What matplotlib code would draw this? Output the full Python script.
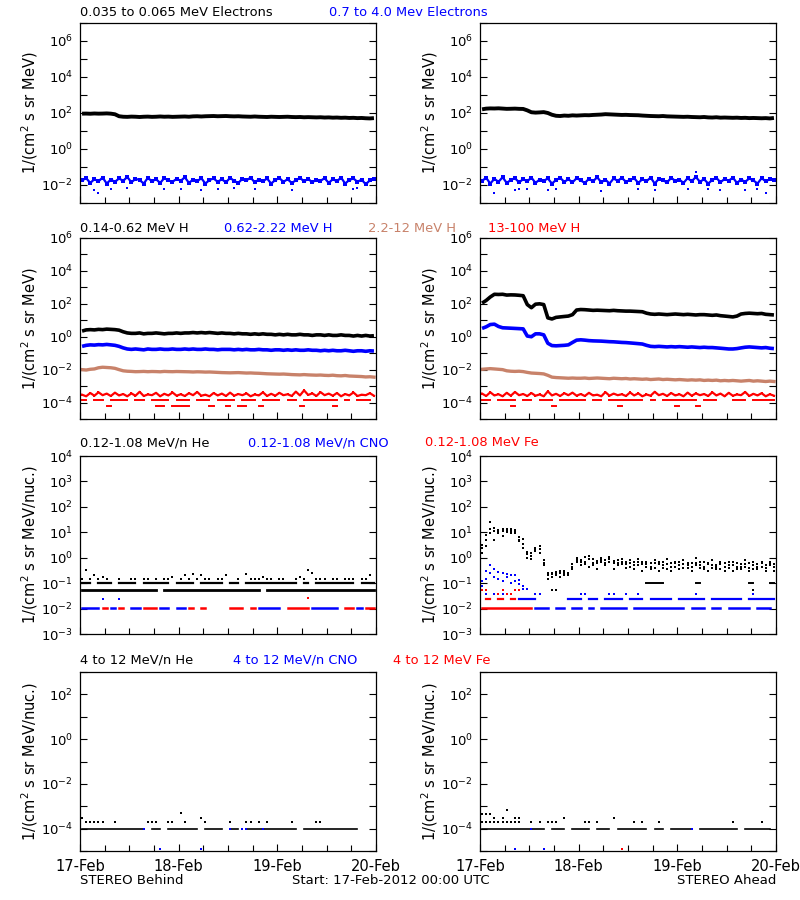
import numpy as np
import matplotlib
matplotlib.use('Agg')
import matplotlib.pyplot as plt
import matplotlib.dates as mdates
from matplotlib.ticker import FixedLocator, FuncFormatter, NullLocator
from datetime import datetime, timedelta

nan = np.nan

# hourly samples from 17-Feb-2012 00:00 UTC to 20-Feb-2012 00:00 UTC
t_start = datetime(2012, 2, 17)
t_end = datetime(2012, 2, 20)
times = [t_start + timedelta(minutes=30 + 60 * i) for i in range(72)]

BLUE = '#0000ff'
RED = '#ff0000'
SIENNA = '#c8826a'

# ---------------- electrons ----------------
e_lo_B = [92, 93, 91, 94, 92, 93, 95, 92, 85, 66, 62, 61,
          63, 62, 60, 62, 63, 61, 62, 64, 62, 63, 61, 62,
          63, 64, 62, 65, 66, 64, 66, 67, 68, 66, 67, 68,
          66, 65, 66, 64, 63, 62, 64, 62, 61, 60, 62, 61,
          60, 61, 62, 60, 59, 60, 58, 59, 58, 57, 58, 56,
          57, 55, 56, 54, 55, 53, 54, 52, 53, 51, 50, 52]
e_hi_B = [.018, .024, .013, .021, .016, .026, .012, .020, .015, .023, .017, .028,
          .014, .022, .019, .012, .025, .016, .021, .013, .024, .018, .015, .022,
          .017, .027, .013, .020, .016, .024, .012, .019, .023, .015, .021, .014,
          .025, .017, .013, .022, .018, .026, .014, .020, .016, .023, .012, .019,
          .024, .015, .021, .013, .018, .025, .016, .022, .014, .020, .017, .024,
          .013, .021, .016, .026, .012, .019, .023, .015, .020, .011, .018, .022]
e_out_B_idx = [3, 4, 7, 11, 20, 24, 29, 33, 37, 42, 51, 66, 67]
e_out_B = [0.0055, 0.0035, 0.006, 0.0065, 0.006, 0.006, 0.0055, 0.006, 0.0065,
           0.006, 0.0055, 0.006, 0.0065]

e_lo_A = [160, 175, 180, 178, 182, 176, 170, 172, 175, 170, 168, 140,
          110, 105, 108, 112, 100, 80, 70, 68, 72, 70, 74, 72,
          74, 76, 75, 78, 80, 82, 86, 84, 82, 80, 78, 79,
          77, 76, 75, 72, 70, 68, 67, 66, 68, 65, 64, 63,
          62, 61, 62, 60, 59, 58, 60, 57, 56, 58, 55, 56,
          55, 54, 55, 53, 54, 52, 53, 52, 51, 52, 50, 53]
e_hi_A = [.017, .025, .012, .022, .015, .027, .013, .019, .024, .014, .021, .016,
          .026, .013, .020, .017, .023, .012, .019, .025, .015, .021, .014, .024,
          .018, .013, .022, .016, .027, .014, .020, .012, .023, .017, .025, .015,
          .019, .024, .013, .021, .016, .026, .012, .022, .018, .014, .025, .017,
          .020, .013, .024, .016, .028, .015, .021, .012, .019, .025, .014, .022,
          .017, .026, .013, .020, .015, .023, .018, .012, .024, .016, .021, .019]
e_out_A_idx = [3, 8, 9, 11, 16, 18, 29, 38, 42, 50, 52, 55, 58, 64, 67, 69]
e_out_A = [0.0035, 0.005, 0.006, 0.006, 0.0055, 0.006, 0.0045, 0.006, 0.005,
           0.006, 0.055, 0.006, 0.0055, 0.005, 0.006, 0.0035]

# ---------------- protons ----------------
h1_B = [2.2, 2.6, 2.7, 2.6, 2.8, 2.7, 2.9, 2.8, 2.7, 2.5, 2.0, 1.7,
        1.6, 1.6, 1.7, 1.5, 1.6, 1.6, 1.7, 1.6, 1.5, 1.6, 1.6, 1.7,
        1.6, 1.7, 1.7, 1.8, 1.7, 1.8, 1.7, 1.8, 1.7, 1.6, 1.7, 1.6,
        1.6, 1.5, 1.6, 1.5, 1.5, 1.4, 1.5, 1.4, 1.5, 1.4, 1.4, 1.3,
        1.4, 1.3, 1.4, 1.3, 1.3, 1.4, 1.3, 1.3, 1.2, 1.3, 1.3, 1.2,
        1.3, 1.2, 1.2, 1.3, 1.2, 1.2, 1.1, 1.2, 1.1, 1.2, 1.1, 1.15]
h2_B = [0.26, 0.30, 0.32, 0.31, 0.33, 0.32, 0.34, 0.32, 0.30, 0.26, 0.21, 0.18,
        0.17, 0.18, 0.17, 0.16, 0.18, 0.17, 0.17, 0.18, 0.17, 0.17, 0.18, 0.17,
        0.17, 0.18, 0.17, 0.18, 0.17, 0.17, 0.18, 0.17, 0.17, 0.16, 0.17, 0.17,
        0.17, 0.16, 0.17, 0.16, 0.17, 0.16, 0.16, 0.17, 0.16, 0.16, 0.15, 0.16,
        0.16, 0.15, 0.16, 0.15, 0.16, 0.15, 0.15, 0.16, 0.15, 0.15, 0.14, 0.15,
        0.14, 0.15, 0.14, 0.14, 0.15, 0.14, 0.13, 0.14, 0.14, 0.13, 0.14, 0.135]
h3_B = [0.010, 0.0095, 0.0105, 0.011, 0.013, 0.014, 0.0135, 0.013, 0.012, 0.010, 0.0085, 0.008,
        0.0078, 0.0075, 0.0076, 0.0078, 0.0075, 0.0077, 0.0076, 0.0074, 0.0078, 0.0076, 0.0075, 0.0077,
        0.0076, 0.0075, 0.0074, 0.0072, 0.0074, 0.0073, 0.0071, 0.0072, 0.0070, 0.0068, 0.0066, 0.0065,
        0.0064, 0.0065, 0.0066, 0.0064, 0.0062, 0.0063, 0.0061, 0.0060, 0.0058, 0.0056, 0.0055, 0.0054,
        0.0053, 0.0054, 0.0052, 0.0050, 0.0049, 0.0048, 0.0050, 0.0048, 0.0047, 0.0046, 0.0047, 0.0045,
        0.0044, 0.0046, 0.0043, 0.0042, 0.0044, 0.0041, 0.0040, 0.0039, 0.0038, 0.0036, 0.0037, 0.0035]
# 13-100 MeV H, in units of 1e-4
h4_B = [3.0, 2.4, 3.8, 2.6, 4.2, 2.8, 3.5, 2.5, 4.0, 2.7, 3.3, 2.4,
        3.6, 2.6, 4.5, 2.5, 3.1, 2.8, 3.9, 2.4, 3.4, 2.7, 4.1, 2.6,
        3.2, 2.5, 3.7, 2.8, 4.4, 2.6, 3.0, 2.4, 3.8, 2.7, 3.5, 2.5,
        4.0, 2.6, 3.3, 2.8, 3.6, 2.4, 3.1, 2.7, 4.2, 2.5, 3.4, 2.6,
        3.9, 2.8, 3.2, 2.5, 4.6, 2.7, 5.5, 2.9, 3.6, 2.5, 4.3, 2.8,
        3.5, 2.6, 3.8, 2.4, 3.3, 2.7, 4.1, 2.5, 3.0, 2.8, 3.7, 2.6]
h4_B_mid = ("11.111.11111" ".111.11111.1" "111.1111.111"
            "11.1111.1111" "1.111.111111" "111.11.1111.")
h4_B_low = ("1...1.11...1" "..1...111.11" "111..1.11..1"
            "1.111..11..." "1.1..11..1.." ".11...1....1")

h1_A = [110, 160, 260, 380, 370, 380, 340, 350, 345, 330, 310, 90,
        58, 95, 100, 90, 14, 12, 15, 16, 17, 18, 22, 42,
        45, 44, 42, 40, 41, 40, 39, 38, 40, 38, 37, 36,
        36, 35, 34, 33, 27, 24, 23, 24, 23, 22, 23, 24,
        23, 22, 23, 22, 21, 22, 22, 21, 20, 21, 19, 18,
        17, 16, 18, 24, 26, 27, 26, 25, 26, 23, 22, 21]
h2_A = [3.2, 4.0, 5.5, 5.8, 4.2, 3.5, 3.4, 3.3, 3.2, 3.1, 3.0, 1.1,
        1.0, 1.5, 1.5, 1.3, 0.4, 0.29, 0.28, 0.29, 0.30, 0.32, 0.45, 0.62,
        0.65, 0.62, 0.58, 0.56, 0.55, 0.54, 0.52, 0.50, 0.49, 0.47, 0.45, 0.44,
        0.42, 0.40, 0.38, 0.36, 0.30, 0.26, 0.25, 0.26, 0.25, 0.24, 0.25, 0.24,
        0.25, 0.24, 0.23, 0.24, 0.23, 0.22, 0.23, 0.22, 0.22, 0.21, 0.20, 0.19,
        0.18, 0.18, 0.19, 0.21, 0.23, 0.24, 0.23, 0.22, 0.21, 0.22, 0.20, 0.19]
h3_A = [0.0105, 0.011, 0.0115, 0.011, 0.0105, 0.010, 0.0085, 0.008, 0.0078, 0.0080, 0.0076, 0.0068,
        0.0062, 0.0060, 0.0058, 0.0055, 0.0045, 0.0035, 0.0033, 0.0032, 0.0031, 0.0030, 0.0031, 0.0030,
        0.0030, 0.0031, 0.0029, 0.0030, 0.0031, 0.0030, 0.0029, 0.0028, 0.0030, 0.0029, 0.0028, 0.0029,
        0.0027, 0.0028, 0.0027, 0.0026, 0.0027, 0.0025, 0.0026, 0.0027, 0.0025, 0.0026, 0.0025, 0.0024,
        0.0025, 0.0024, 0.0023, 0.0024, 0.0023, 0.0024, 0.0022, 0.0023, 0.0022, 0.0023, 0.0021, 0.0022,
        0.0021, 0.0022, 0.0021, 0.0020, 0.0021, 0.0022, 0.0020, 0.0021, 0.0020, 0.0019, 0.0020, 0.0019]
h4_A = [3.5, 2.5, 4.2, 2.7, 3.2, 2.4, 3.9, 2.6, 4.4, 2.8, 3.3, 2.5,
        3.8, 2.6, 3.1, 2.4, 4.8, 2.7, 3.4, 2.5, 3.7, 2.8, 4.0, 2.6,
        3.3, 2.5, 3.9, 2.7, 3.0, 2.4, 4.3, 2.6, 3.5, 2.8, 3.2, 2.5,
        4.1, 2.7, 3.6, 2.4, 3.1, 2.6, 4.5, 2.8, 3.4, 2.5, 3.8, 2.7,
        3.2, 2.4, 4.0, 2.6, 3.6, 2.8, 3.3, 2.5, 4.2, 2.7, 3.5, 2.4,
        3.9, 2.6, 3.1, 2.8, 4.4, 2.5, 3.4, 2.7, 3.7, 2.4, 3.2, 2.6]
h4_A_mid = ("111.11111.11" "1.1111.11111" "11.111.11111"
            "1111.11.1111" "11111.1111.1" ".1111.111111")
h4_A_low = ("1..1...11..1" ".1...11..1.." "1..1.1...11."
            "..1...1..1.1" "1...11...1.." ".1..1...1..1")

# ---------------- 0.12-1.08 MeV/n ions ----------------
he_B_top = [0.15, 0.33, 0.15, 0.2, 0.15, 0.17, 0.15, nan, nan, 0.15, nan, nan,
            0.15, 0.15, nan, 0.15, 0.15, nan, 0.15, nan, 0.15, 0.15, 0.17, nan,
            0.15, 0.2, 0.15, 0.22, 0.15, 0.2, 0.15, 0.15, nan, 0.15, 0.15, 0.2,
            nan, nan, 0.15, nan, 0.22, 0.15, 0.15, 0.15, 0.17, 0.15, 0.15, nan,
            0.15, 0.15, nan, nan, 0.15, 0.18, 0.15, 0.33, 0.25, 0.15, 0.15, 0.15,
            nan, 0.15, 0.15, nan, 0.15, 0.15, 0.15, nan, 0.15, 0.15, 0.2, nan]
he_B_01 = ("111.1111.111" "11.1111111.1" "1111.111111."
           "111.11111111" "11111.11.111" "1111111.1111")
he_B_005 = ("111111111111" "1111111.1111" "111111111111"
            "11111111.111" "111111111111" "111111111111")
floor_B = ("bbbbbrrbbrr." "bbbrrrrbbb.b" "bbrrbrr....."
           "rrrr.rrbbbbb" "b.rrrrrrbbbb" "bbb.rrrbbrrr")
cno_B_idx = [5, 9]
cno_B = [0.023, 0.023]
fe_B_idx = [55]
fe_B = [0.025]

he_A = [3.3, 8.0, 25, 11, 12, 13, 12, 11, 12, 6.5, 5.5, 1.7,
        1.2, 2.5, 2.8, 0.8, 0.25, 0.22, 0.28, 0.25, 0.24, 0.26, 0.55, 0.65,
        0.8, 0.7, 0.9, 0.6, 0.75, 0.65, 0.85, 0.7, 0.6, 0.8, 0.55, 0.7,
        0.6, 0.5, 0.65, 0.55, 0.45, 0.6, 0.4, 0.55, 0.5, 0.35, 0.6, 0.45,
        0.5, 0.55, 0.4, 0.6, 0.5, 0.65, 0.45, 0.55, 0.4, 0.5, 0.35, 0.45,
        0.4, 0.5, 0.35, 0.45, 0.55, 0.4, 0.5, 0.45, 0.6, 0.4, 0.5, 0.45]
he_A2 = [1.5, 3.0, 14, 5.0, 9.0, 7.0, 10, 13, 9.0, 4.5, 2.5, 1.0,
         0.9, 1.8, 1.5, 0.5, 0.15, 0.18, 0.2, 0.18, 0.3, 0.2, 0.35, 1.0,
         0.5, 1.1, 0.45, 0.9, 0.35, 1.0, 0.5, 0.9, 0.35, 0.5, 0.9, 0.4,
         0.8, 0.35, 0.9, 0.3, 0.7, 0.35, 0.8, 0.3, 0.65, 0.9, 0.3, 0.7,
         0.35, 0.8, 0.6, 0.3, 1.0, 0.4, 0.7, 0.3, 0.8, 0.35, 0.65, 0.3,
         0.7, 0.3, 0.6, 0.35, 0.8, 0.3, 0.65, 0.35, 0.7, 0.3, 0.55, 0.3]
he_A3 = [2.5, 5.0, 9.0, 15, 10, 11, 14, 9.5, 10, 5.0, 3.5, 1.4,
         1.5, 2.0, 2.2, 0.6, 0.2, 0.25, 0.22, 0.3, 0.2, 0.22, 0.45, 0.8,
         0.65, 0.55, 1.2, 0.5, 0.6, 0.8, 0.6, 1.1, 0.75, 0.6, 0.7, 0.55,
         0.45, 0.7, 0.5, 0.7, 0.55, 0.45, 0.6, 0.7, 0.4, 0.55, 0.45, 0.6,
         0.65, 0.4, 0.5, 0.45, 0.6, 0.5, 0.35, 0.6, 0.5, 0.45, 0.55, 0.6,
         0.5, 0.65, 0.45, 0.55, 0.45, 0.6, 0.35, 0.55, 0.45, 0.5, 0.65, 0.55]
he_A_01 = ("............" "............" "............"
           "....11111..." "....11......" ".....11...11")
he_A_005_idx = [17, 18, 66]
he_A_005 = [0.053, 0.053, 0.053]
cno_A1 = [0.08, 0.3, 0.5, 0.35, 0.15, 0.25, 0.22, 0.2, 0.12, 0.09, 0.08, 0.06]
cno_A2 = [0.12, 0.15, 0.25, 0.18, 0.28, 0.12, 0.18, 0.1, 0.2, 0.13, 0.06]
cno_A_036_idx = [1, 3, 5, 6, 13, 14, 24, 25, 31, 32, 35, 38, 52, 66]
cno_A_023 = ("1..1..1..111" "11.......111" "1.111.11111."
             "1111.111111." "1111111.1111" "1111.1111111")
fe_A_023 = (".11.11.11..." "............" "............"
            "............" "............" "............")
fe_A_hi_idx = [0, 1, 5, 8, 9, 4, 6, 7]
fe_A_hi = [0.053, 0.053, 0.053, 0.053, 0.053, 0.036, 0.036, 0.036]
floor_A = ("rrrrrrrrrrrr" "rbbbbrbbb.bb" "brbbrbbbbbbb"
           "rbbbbbbbbbbb" "bbrbbbbrbbbr" "bbbbbbrbbbbr")

# ---------------- 4-12 MeV/n ions, units of 1e-4 ----------------
he4_B_line = ("111111111111" "1111.111.111" "11111.11111."
              "111.11111111" "11111.111111" "11111111....")
he4_B_idx = [0, 1, 2, 3, 4, 5, 8, 16, 17, 18, 21, 22, 24, 25, 29, 30, 36, 40, 41, 43, 45, 51, 57, 58]
he4_B = [3, 2, 2, 2, 2, 2, 2, 2, 2, 2, 2, 2, 5, 2, 3, 2, 2, 2, 2, 2, 2, 2, 2, 2]
cno4_B_line_idx = [15, 36, 39, 40, 44]
cno4_B_low_idx = [19, 29]

he4_A_line = ("111111111111" "1111.1111.11" "111.1111.111"
              "11111.111.11" "1111.1111111" "111.1111111.")
he4_A_dense = [2, 2, 2, 2, 2, 2, 2, 2, 2, 2]
he4_A_idx = [0, 1, 2, 3, 5, 6, 8, 9, 12, 14, 16, 17, 18, 20, 25, 26, 28, 32, 37, 39, 43, 61, 68]
he4_A = [4.6, 4.6, 4.6, 3, 3, 7, 3, 3, 2, 2, 2, 2, 2, 3, 2, 2, 2, 3, 2, 2, 2, 2, 2]
cno4_A_line_idx = [12, 51]
cno4_A_low_idx = [8, 15]
fe4_A_low_idx = [34]


def level(mask, value, key='1'):
    assert len(mask) == 72
    return np.array([value if c == key else nan for c in mask])


def sparse(idx, vals):
    y = np.full(72, nan)
    y[list(idx)] = vals
    return y


def dots(ax, y, color, ms=1.7):
    ax.plot(times, y, ls='none', marker='s', ms=ms, mew=0, color=color)


def band(ax, y, color, lw=1.0, ms=2.0):
    ax.plot(times, y, '-', lw=lw, color=color, marker='s', ms=ms, mew=0)


def thick(ax, y, color, lw=2.6):
    ax.plot(times, y, '-', lw=lw, color=color, solid_capstyle='butt')


def setup(ax, lo, hi, labeled, ylabel, bottom):
    ax.set_yscale('log')
    ax.set_ylim(10.0 ** lo, 10.0 ** hi)
    ax.set_xlim(t_start, t_end)
    ax.yaxis.set_major_locator(FixedLocator(10.0 ** np.arange(lo, hi + 1)))
    ax.yaxis.set_minor_locator(NullLocator())
    ax.yaxis.set_major_formatter(FuncFormatter(
        lambda v, p: r'$10^{%d}$' % round(np.log10(v)) if round(np.log10(v)) in labeled else ''))
    ax.xaxis.set_major_locator(mdates.DayLocator())
    ax.xaxis.set_minor_locator(mdates.HourLocator(byhour=[6, 12, 18]))
    if bottom:
        ax.xaxis.set_major_formatter(mdates.DateFormatter('%d-%b'))
    else:
        ax.xaxis.set_major_formatter(FuncFormatter(lambda v, p: ''))
    ax.tick_params(axis='y', which='both', direction='in', left=True, right=True,
                   length=5, width=0.8, labelsize=9.5, pad=5)
    ax.tick_params(axis='x', which='major', direction='in', top=False, length=5,
                   width=0.8, labelsize=10.5, pad=6)
    ax.tick_params(axis='x', which='minor', direction='in', top=False, length=4, width=0.8)
    for s in ax.spines.values():
        s.set_linewidth(0.9)
    ax.set_ylabel(ylabel, fontsize=10.5)
    ax.yaxis.set_label_coords(-0.135, 0.5)


fig = plt.figure(figsize=(8, 9), dpi=100)
W = 296 / 800
rows = [(23, 203), (238, 419), (456, 634), (672, 851)]
axes = []
for top, bot in rows:
    pair = []
    for left in (80, 480):
        pair.append(fig.add_axes([left / 800, 1 - bot / 900, W, (bot - top) / 900]))
    axes.append(pair)

lab1 = r'1/(cm$^2$ s sr MeV)'
lab2 = r'1/(cm$^2$ s sr MeV/nuc.)'

# row 1: electrons
for ax, lo_e, hi_e, oi, ov in [(axes[0][0], e_lo_B, e_hi_B, e_out_B_idx, e_out_B),
                               (axes[0][1], e_lo_A, e_hi_A, e_out_A_idx, e_out_A)]:
    thick(ax, lo_e, 'black', lw=2.8)
    band(ax, hi_e, BLUE, lw=1.6, ms=2.2)
    dots(ax, sparse(oi, ov), BLUE, ms=2)
    setup(ax, -3, 7, [-2, 0, 2, 4, 6], lab1, False)

# row 2: protons
for ax, a, b, c, d, mid, low in [(axes[1][0], h1_B, h2_B, h3_B, h4_B, h4_B_mid, h4_B_low),
                                 (axes[1][1], h1_A, h2_A, h3_A, h4_A, h4_A_mid, h4_A_low)]:
    thick(ax, a, 'black')
    thick(ax, b, BLUE)
    band(ax, c, SIENNA, lw=2.4)
    band(ax, np.array(d) * 1e-4, RED, lw=1.6)
    ax.plot(times, level(mid, 1.5e-4), '-', lw=1.4, color=RED)
    ax.plot(times, level(low, 0.6e-4), '-', lw=1.4, color=RED)
    setup(ax, -5, 6, [-4, -2, 0, 2, 4, 6], lab1, False)

# row 3: low energy ions
ax = axes[2][0]
ax.plot(times, level(he_B_005, 0.053), '-', lw=2.0, color='black')
ax.plot(times, level(he_B_01, 0.1), '-', lw=1.6, color='black')
dots(ax, he_B_top, 'black', ms=1.6)
ax.plot(times, level(floor_B, 0.011, 'b'), '-', lw=1.8, color=BLUE)
ax.plot(times, level(floor_B, 0.011, 'r'), '-', lw=1.8, color=RED)
dots(ax, sparse(cno_B_idx, cno_B), BLUE)
dots(ax, sparse(fe_B_idx, fe_B), RED)
setup(ax, -3, 4, list(range(-3, 5)), lab2, False)

ax = axes[2][1]
dots(ax, he_A, 'black', ms=1.6)
dots(ax, he_A2, 'black', ms=1.6)
dots(ax, he_A3, 'black', ms=1.6)
ax.plot(times, level(he_A_01, 0.1), '-', lw=1.4, color='black')
dots(ax, sparse(he_A_005_idx, he_A_005), 'black')
dots(ax, sparse(range(12), cno_A1), BLUE)
dots(ax, sparse(range(11), cno_A2), BLUE)
dots(ax, sparse(cno_A_036_idx, [0.036] * len(cno_A_036_idx)), BLUE)
dots(ax, sparse(fe_A_hi_idx, fe_A_hi), RED)
ax.plot(times, level(cno_A_023, 0.023), '-', lw=1.6, color=BLUE)
ax.plot(times, level(fe_A_023, 0.023), '-', lw=1.6, color=RED)
ax.plot(times, level(floor_A, 0.011, 'b'), '-', lw=1.8, color=BLUE)
ax.plot(times, level(floor_A, 0.011, 'r'), '-', lw=1.8, color=RED)
setup(ax, -3, 4, list(range(-3, 5)), lab2, False)

# row 4: 4-12 MeV/n ions
ax = axes[3][0]
ax.plot(times, level(he4_B_line, 1e-4), '-', lw=1.2, color='black')
dots(ax, sparse(he4_B_idx, np.array(he4_B) * 1e-4), 'black', ms=1.7)
dots(ax, sparse(cno4_B_line_idx, [1e-4] * len(cno4_B_line_idx)), BLUE, ms=1.5)
dots(ax, sparse(cno4_B_low_idx, [1.2e-5] * len(cno4_B_low_idx)), BLUE, ms=1.6)
setup(ax, -5, 3, [-4, -2, 0, 2], lab2, True)

ax = axes[3][1]
ax.plot(times, level(he4_A_line, 1e-4), '-', lw=1.2, color='black')
dots(ax, sparse(range(10), np.array(he4_A_dense) * 1e-4), 'black', ms=1.7)
dots(ax, sparse(he4_A_idx, np.array(he4_A) * 1e-4), 'black', ms=1.7)
dots(ax, sparse(cno4_A_line_idx, [1e-4] * len(cno4_A_line_idx)), BLUE, ms=1.5)
dots(ax, sparse(cno4_A_low_idx, [1.2e-5] * len(cno4_A_low_idx)), BLUE, ms=1.6)
dots(ax, sparse(fe4_A_low_idx, [1.2e-5]), RED, ms=1.6)
setup(ax, -5, 3, [-4, -2, 0, 2], lab2, True)

# panel headers
titles = [
    (13, [(80, '0.035 to 0.065 MeV Electrons', 'black'), (329, '0.7 to 4.0 Mev Electrons', BLUE)]),
    (228, [(80, '0.14-0.62 MeV H', 'black'), (224, '0.62-2.22 MeV H', BLUE),
           (368, '2.2-12 MeV H', SIENNA), (488, '13-100 MeV H', RED)]),
    (443, [(80, '0.12-1.08 MeV/n He', 'black'), (248, '0.12-1.08 MeV/n CNO', BLUE),
           (425, '0.12-1.08 MeV Fe', RED)]),
    (660, [(80, '4 to 12 MeV/n He', 'black'), (233, '4 to 12 MeV/n CNO', BLUE),
           (393, '4 to 12 MeV Fe', RED)]),
]
for y, items in titles:
    for x, s, c in items:
        fig.text(x / 800, 1 - y / 900, s, color=c, fontsize=9.4, ha='left', va='center')

fig.text(80 / 800, 1 - 881 / 900, 'STEREO Behind', fontsize=9.5, ha='left', va='center')
fig.text(292 / 800, 1 - 881 / 900, 'Start: 17-Feb-2012 00:00 UTC', fontsize=9.5, ha='left', va='center')
fig.text(776 / 800, 1 - 881 / 900, 'STEREO Ahead', fontsize=9.5, ha='right', va='center')

fig.savefig('out.png', dpi=100, facecolor='white')
